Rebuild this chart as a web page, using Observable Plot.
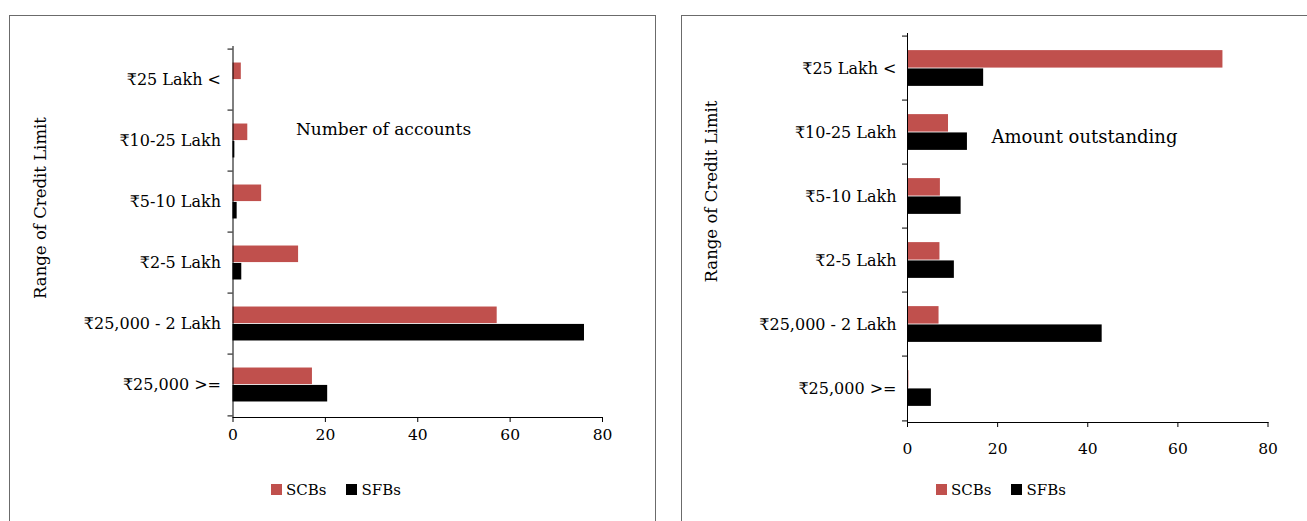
<!DOCTYPE html>
<html>
<head>
<meta charset="utf-8">
<script src="https://cdn.jsdelivr.net/npm/d3@7"></script>
<script src="https://cdn.jsdelivr.net/npm/@observablehq/plot@0.6"></script>
<style>
  html, body { margin: 0; padding: 0; background: #fff; }
  #page { position: relative; width: 1307px; height: 521px; overflow: hidden; font-family: "DejaVu Serif", serif; }
  .box { position: absolute; border: 1px solid #6b6b6b; box-sizing: border-box; }
  .panel { position: absolute; top: 0; }
  .panel svg { overflow: visible; }
  .leg { position: absolute; }
  .lg-swatch > svg { margin-right: 4px !important; }
  .lg-swatches-wrap .lg-swatch { margin-right: 20px !important; }
</style>
</head>
<body>
<div id="page">
  <div class="box" style="left:9px; top:15px; width:647px; height:540px;"></div>
  <div class="box" style="left:681px; top:15px; width:660px; height:540px;"></div>
  <div id="left" class="panel" style="left:0px;"></div>
  <div id="right" class="panel" style="left:660px;"></div>
  <div id="legL" class="leg" style="left:271px; top:473px;"></div>
  <div id="legR" class="leg" style="left:936px; top:473px;"></div>
</div>
<script>
// ---- Data ----
const categories = ["₹25 Lakh <", "₹10-25 Lakh", "₹5-10 Lakh", "₹2-5 Lakh", "₹25,000 - 2 Lakh", "₹25,000 >="];
const series = ["SCBs", "SFBs"];
const seriesColors = ["#C0504D", "#000000"];
const xTicks = [0, 20, 40, 60, 80];
// Number of accounts (per cent)
const accountsSCBs = [1.8, 3.2, 6.2, 14.2, 57.2, 17.2];
const accountsSFBs = [0.0, 0.4, 0.9, 1.9, 76.1, 20.5];
// Amount outstanding (per cent)
const amountSCBs = [70.0, 9.1, 7.3, 7.2, 7.0, 0.3];
const amountSFBs = [16.9, 13.3, 11.9, 10.4, 43.2, 5.3];
const yLabel = "Range of Credit Limit";

function rows(scb, sfb) {
  const out = [];
  categories.forEach((c, i) => {
    out.push({category: c, series: series[0], value: scb[i]});
    out.push({category: c, series: series[1], value: sfb[i]});
  });
  return out;
}

function panel(opt) {
  const data = rows(opt.scb, opt.sfb);
  const band = (opt.height - opt.mt - opt.mb) / categories.length;
  const bh = opt.barH;
  const outer = (band - 2 * bh) / 2;
  return Plot.plot({
    width: opt.width,
    height: opt.height,
    marginLeft: opt.ml,
    marginRight: opt.mr,
    marginTop: opt.mt,
    marginBottom: opt.mb,
    style: {fontFamily: "DejaVu Serif", fontSize: "16px", background: "transparent", color: "#000", overflow: "visible"},
    x: {domain: [0, 80]},
    y: {domain: categories, padding: 0},
    color: {domain: series, range: seriesColors},
    marks: [
      Plot.barX(data.filter(d => d.series === series[0]), {x: "value", y: "category", fill: "series", insetTop: outer, insetBottom: outer + bh}),
      Plot.barX(data.filter(d => d.series === series[1]), {x: "value", y: "category", fill: "series", insetTop: outer + bh, insetBottom: outer}),
      Plot.ruleX([0], {stroke: "#000"}),
      Plot.frame({anchor: "bottom", stroke: "#000"}),
      Plot.axisX({ticks: xTicks, tickSize: 5, tickPadding: opt.xPad, fontSize: 15.5, label: null, stroke: "#000"}),
      Plot.axisY({tickSize: 0, tickPadding: opt.yPad, fontSize: 16, label: null}),
      Plot.axisY({text: null, tickSize: 5, dy: -band / 2, label: null, stroke: "#000"}),
      Plot.axisY([categories[categories.length - 1]], {text: null, tickSize: 5, dy: band / 2, label: null, stroke: "#000"}),
      Plot.text([opt.note], {frameAnchor: "top-left", dx: opt.noteX - opt.ml, dy: opt.noteY - opt.mt, textAnchor: "middle", fontSize: opt.noteSize}),
      Plot.text([yLabel], {frameAnchor: "left", rotate: -90, textAnchor: "middle", dx: opt.labX - opt.ml, dy: opt.labY - (opt.mt + (opt.height - opt.mt - opt.mb) / 2), fontSize: 16.5})
    ]
  });
}

const left = panel({
  scb: accountsSCBs, sfb: accountsSFBs,
  width: 660, height: 470, ml: 232.5, mr: 58, mt: 46, mb: 53,
  barH: 17.4, xPad: 6, yPad: 12,
  note: "Number of accounts", noteX: 383, noteY: 122, noteSize: 17,
  labX: 40, labY: 207.5
});
document.getElementById("left").appendChild(left);

const right = panel({
  scb: amountSCBs, sfb: amountSFBs,
  width: 647, height: 470, ml: 247, mr: 39.5, mt: 33, mb: 48,
  barH: 18.3, xPad: 15, yPad: 11,
  note: "Amount outstanding", noteX: 1084 - 660, noteY: 130, noteSize: 18,
  labX: 711 - 660, labY: 191
});
document.getElementById("right").appendChild(right);

function legend() {
  return Plot.legend({
    color: {domain: series, range: seriesColors},
    swatchSize: 11,
    className: "lg",
    style: {fontFamily: "DejaVu Serif", fontSize: "15px", color: "#000", background: "transparent"}
  });
}
document.getElementById("legL").appendChild(legend());
document.getElementById("legR").appendChild(legend());
</script>
</body>
</html>
